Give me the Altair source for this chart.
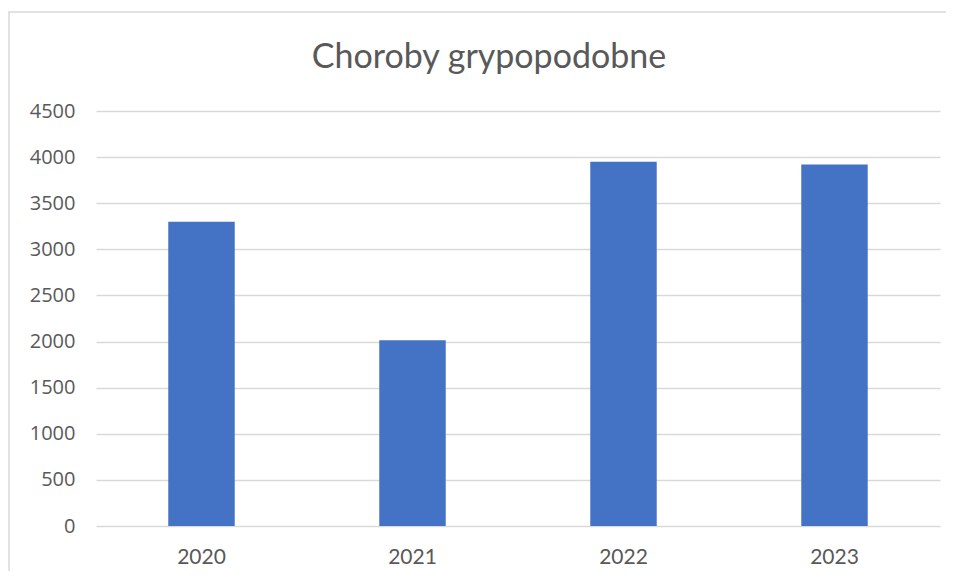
import altair as alt
import pandas as pd

years = ["2020", "2021", "2022", "2023"]
values = [3300, 2015, 3950, 3920]
title_text = ["Choroby grypopodobne"]

df = pd.DataFrame({"year": years, "value": values})
tdf = pd.DataFrame({"t": title_text})

bars = alt.Chart(df).mark_bar(color="#4472C4").encode(
    x=alt.X("year:N", sort=years, title=None,
            scale=alt.Scale(paddingInner=0.685, paddingOuter=0.3425),
            axis=alt.Axis(labelAngle=0, labelFont="Lato", labelFontSize=21,
                          labelColor="#595959", labelPadding=20, domain=False, ticks=False,
                          grid=False)),
    y=alt.Y("value:Q", title=None,
            scale=alt.Scale(domain=[0, 4500], nice=False),
            axis=alt.Axis(values=list(range(0, 4501, 500)), format="d", labelFont="Open Sans",
                          labelFontSize=20, labelColor="#595959", labelPadding=21, domain=False,
                          ticks=False, gridColor="#d9d9d9", gridWidth=1.5)),
)

title = alt.Chart(tdf).mark_text(font="Lato", fontSize=34, color="#595959", align="center",
                                 baseline="middle", clip=False).encode(
    text="t:N", x=alt.value(393), y=alt.value(-53)
)

border = alt.Chart(tdf).mark_rect(fill=None, stroke="#d9d9d9", strokeWidth=1.5, clip=False).encode(
    x=alt.value(-87), x2=alt.value(900), y=alt.value(-99), y2=alt.value(600)
)

chart = alt.layer(border, bars, title).properties(
    width=844, height=415,
    padding={"left": 88, "top": 103, "right": 6, "bottom": 45},
    autosize=alt.AutoSizeParams(type="none"),
).configure_view(stroke=None)

chart.save("out.html", embed_options={"renderer": "svg", "actions": False})
